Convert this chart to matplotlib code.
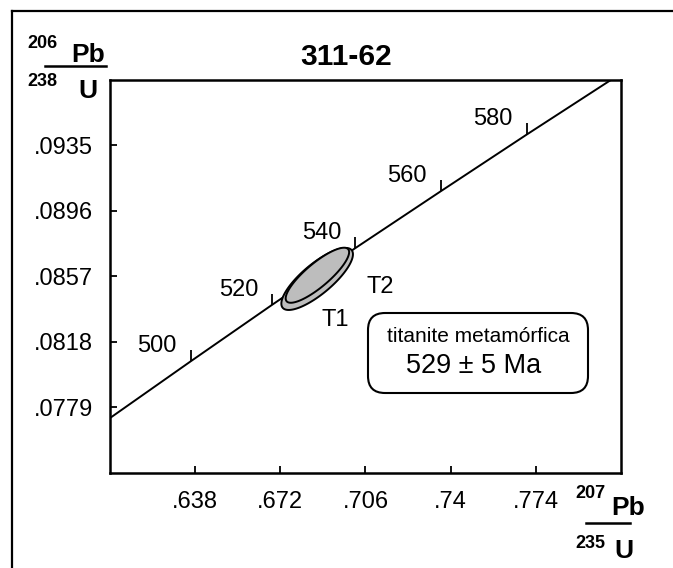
import numpy as np
import matplotlib
matplotlib.use('Agg')
import matplotlib.pyplot as plt
from matplotlib.lines import Line2D
from matplotlib.patches import FancyBboxPatch
from matplotlib.transforms import IdentityTransform

plt.rcParams['font.family'] = ['Liberation Sans', 'DejaVu Sans']

# ---------------- data ----------------
x_ticks = [0.638, 0.672, 0.706, 0.740, 0.774]
x_ticklabels = ['.638', '.672', '.706', '.74', '.774']
y_ticks = [0.0779, 0.0818, 0.0857, 0.0896, 0.0935]
y_ticklabels = ['.0779', '.0818', '.0857', '.0896', '.0935']

# concordia curve points (207Pb/235U, 206Pb/238U)
concordia_age = [480, 500, 520, 540, 560, 580, 600]
concordia_x = [0.6043, 0.6363, 0.6688, 0.7020, 0.7360, 0.7705, 0.8057]
concordia_y = [0.07730, 0.08065, 0.08401, 0.08738, 0.09075, 0.09414, 0.09754]
tick_ages = [500, 520, 540, 560, 580]

# error ellipses: centre, semi-major half-vector, semi-minor half-vector
ellipse_names = ['T1', 'T2']
ellipse_cx = [0.6867, 0.6868]
ellipse_cy = [0.08554, 0.08576]
ellipse_major_dx = [0.01377, 0.01230]
ellipse_major_dy = [0.001713, 0.001545]
ellipse_minor_dx = [0.00383, 0.00300]
ellipse_minor_dy = [-0.000686, -0.000540]
ellipse_label_x = [0.6939, 0.7117]
ellipse_label_y = [0.08311, 0.08507]

title = '311-62'
box_line1 = 'titanite metamórfica'
box_line2 = '529 ± 5 Ma'

# ---------------- figure ----------------
W, H = 673, 568
fig = plt.figure(figsize=(W / 100, H / 100), dpi=100)
ax = fig.add_axes([110 / W, 1 - 473 / H, 511 / W, 393.5 / H])
ax.set_xlim(0.604, 0.808)
ax.set_ylim(0.0740, 0.0974)

for s in ax.spines.values():
    s.set_linewidth(1.8)

ax.set_xticks(x_ticks)
ax.set_xticklabels(x_ticklabels)
ax.set_yticks(y_ticks)
ax.set_yticklabels(y_ticklabels)
ax.tick_params(direction='in', length=5, width=1.3, labelsize=17)
ax.tick_params(axis='x', pad=13)
ax.tick_params(axis='y', pad=12)

# concordia
ax.plot(concordia_x, concordia_y, color='black', lw=1.4, zorder=2)
tx = [concordia_x[concordia_age.index(a)] for a in tick_ages]
ty = [concordia_y[concordia_age.index(a)] for a in tick_ages]
ax.plot(tx, ty, ls='none', marker=2, ms=8, mew=1.3, color='black', zorder=2)
for a, x, y in zip(tick_ages, tx, ty):
    ax.annotate(str(a), (x, y), xytext=(-34, 15), textcoords='offset pixels',
                ha='center', va='center', fontsize=17)

# ellipses
t = np.linspace(0, 2 * np.pi, 300)
for i in range(len(ellipse_names)):
    ex = ellipse_cx[i] + ellipse_major_dx[i] * np.cos(t) + ellipse_minor_dx[i] * np.sin(t)
    ey = ellipse_cy[i] + ellipse_major_dy[i] * np.cos(t) + ellipse_minor_dy[i] * np.sin(t)
    ax.fill(ex, ey, facecolor='#bdbdbd', edgecolor='black', lw=1.4, zorder=3 + i)
    ax.text(ellipse_label_x[i], ellipse_label_y[i], ellipse_names[i],
            ha='center', va='center', fontsize=17, zorder=6)

# box
box = FancyBboxPatch((368, H - 393), 220, 80,
                     boxstyle='round,pad=0,rounding_size=17',
                     transform=IdentityTransform(), facecolor='white',
                     edgecolor='black', lw=1.5, clip_on=False, zorder=7)
ax.add_patch(box)
fig.text(478 / W, 1 - 336 / H, box_line1, ha='center', va='center', fontsize=15, zorder=8)
fig.text(474 / W, 1 - 366 / H, box_line2, ha='center', va='center', fontsize=19.5, zorder=8)

# title
fig.text(346 / W, 1 - 57 / H, title, ha='center', va='center', fontsize=21.5,
         fontweight='bold')

# y-axis label (206Pb / 238U)
fig.text(42 / W, 1 - 43 / H, '206', ha='center', va='center', fontsize=13, fontweight='bold')
fig.text(88 / W, 1 - 62 / H, 'Pb', ha='center', va='baseline', fontsize=19, fontweight='bold')
fig.add_artist(Line2D([45 / W, 106 / W], [1 - 66 / H, 1 - 66 / H], color='black', lw=1.8))
fig.text(42 / W, 1 - 82 / H, '238', ha='center', va='center', fontsize=13, fontweight='bold')
fig.text(88 / W, 1 - 98 / H, 'U', ha='center', va='baseline', fontsize=19, fontweight='bold')

# x-axis label (207Pb / 235U)
fig.text(590 / W, 1 - 494 / H, '207', ha='center', va='center', fontsize=13, fontweight='bold')
fig.text(628 / W, 1 - 515 / H, 'Pb', ha='center', va='baseline', fontsize=19, fontweight='bold')
fig.add_artist(Line2D([586 / W, 630 / W], [1 - 523 / H, 1 - 523 / H], color='black', lw=1.8))
fig.text(590 / W, 1 - 543 / H, '235', ha='center', va='center', fontsize=13, fontweight='bold')
fig.text(624 / W, 1 - 558 / H, 'U', ha='center', va='baseline', fontsize=19, fontweight='bold')

# outer frame (left and top edges)
fig.add_artist(Line2D([12 / W, 12 / W], [0, 1 - 11 / H], color='black', lw=1.6))
fig.add_artist(Line2D([12 / W, 1], [1 - 11 / H, 1 - 11 / H], color='black', lw=1.6))

fig.savefig('out.png', dpi=100)
